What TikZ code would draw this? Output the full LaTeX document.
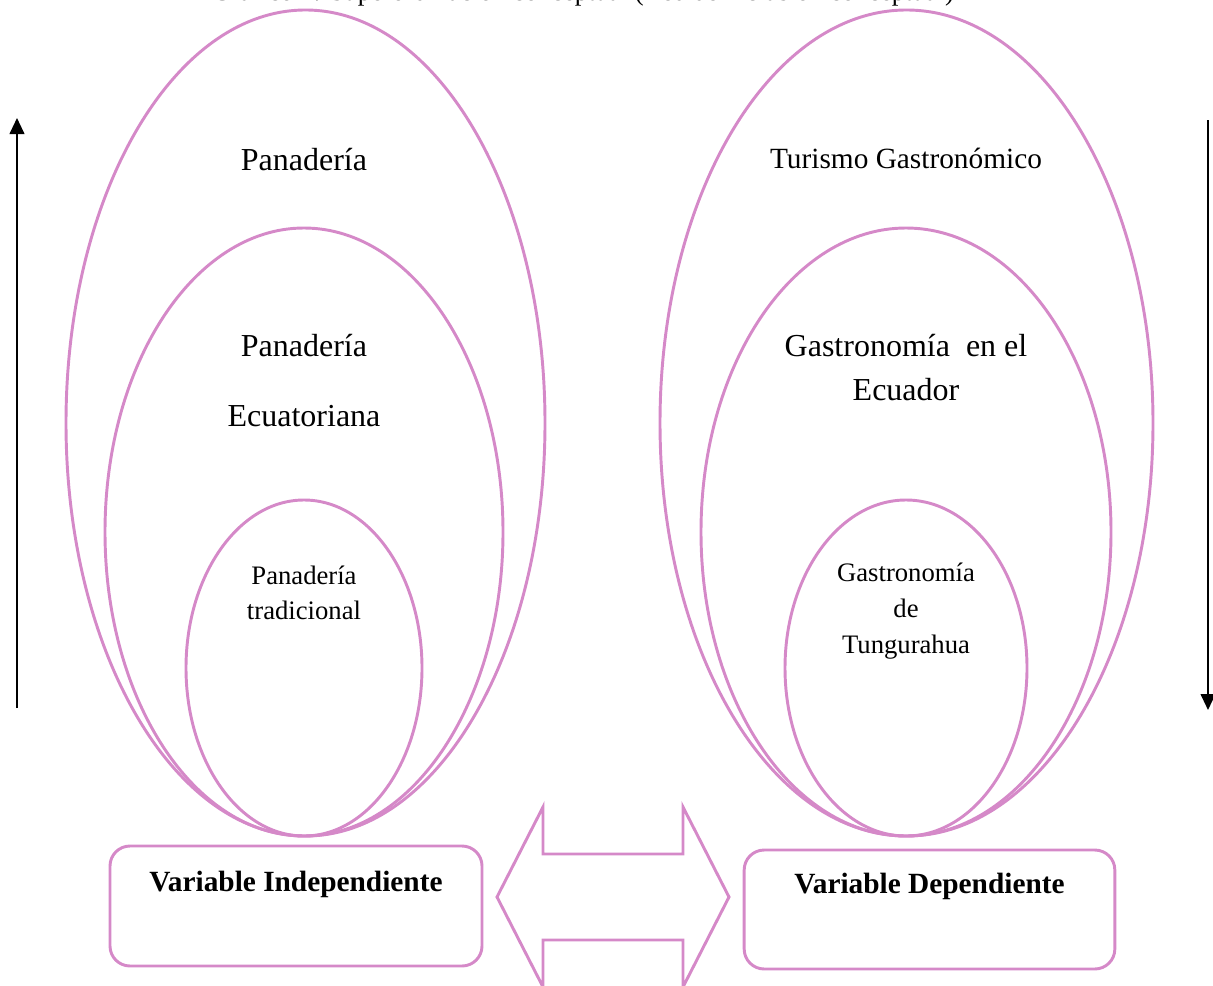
\documentclass[tikz,border=0pt]{standalone}
\usepackage{fontspec}
\setmainfont{Liberation Serif}
\usetikzlibrary{arrows.meta}
\definecolor{orchid}{RGB}{213,137,200}

\begin{document}
\begin{tikzpicture}[x=0.75pt,y=-0.75pt,
  ring/.style={draw=orchid,line width=2.2pt},
  vert/.style={line width=1.5pt,-{Triangle[length=12pt,width=11pt]}},
  varbox/.style={draw=orchid,line width=2.2pt,rounded corners=15pt,inner ysep=0pt,
    font=\fontsize{22}{26}\selectfont\bfseries}]
\useasboundingbox (0,0) rectangle (1213,985);
\node[anchor=base,font=\fontsize{20}{24}\selectfont] (title) at (583,0)
  {Gráfico 1: Superordinación conceptual (Red de inclusión conceptual)};
% variable independiente
\draw[ring] (305.5,423) ellipse (239.5 and 413);
\draw[ring] (304,532) ellipse (199 and 304);
\draw[ring] (304,668) ellipse (118 and 168);
\node[font=\fontsize{24}{28}\selectfont] (pan) at (304,160) {Panadería};
\node[align=center,font=\fontsize{24}{52.5}\selectfont] (panec) at (304,381) {Panadería\\Ecuatoriana};
\node[align=center,font=\fontsize{20}{26.25}\selectfont] (pantr) at (304,593) {Panadería\\tradicional};
% variable dependiente
\draw[ring] (906.5,423) ellipse (246.5 and 413);
\draw[ring] (906,532) ellipse (205 and 304);
\draw[ring] (906,668) ellipse (121 and 168);
\node[font=\fontsize{22}{26}\selectfont] (tur) at (906,158) {Turismo Gastronómico};
\node[align=center,font=\fontsize{24}{33}\selectfont] (gasec) at (906,368) {Gastronomía\ \ en el\\Ecuador};
\node[align=center,font=\fontsize{20}{27}\selectfont] (gastu) at (906,611) {Gastronomía\\de\\Tungurahua};
% flechas laterales
\coordinate (lbot) at (17,708);
\coordinate (ltop) at (17,118);
\coordinate (rtop) at (1208,120);
\coordinate (rbot) at (1208,710);
\draw[vert] (lbot) -- (ltop);
\draw[vert] (rtop) -- (rbot);
% cajas
\node[varbox,minimum width=279pt,text height=33.75pt,text depth=56.25pt] (vi) at (296,906) {Variable Independiente};
\node[varbox,minimum width=278pt,text height=32.25pt,text depth=57pt] (vd) at (929.5,909.5) {Variable Dependiente};
\draw[ring,line join=miter] (497,897) -- (543,807) -- (543,854) -- (683,854) -- (683,807) -- (729,897)
  -- (683,987) -- (683,940) -- (543,940) -- (543,987) -- cycle;
\end{tikzpicture}
\end{document}
